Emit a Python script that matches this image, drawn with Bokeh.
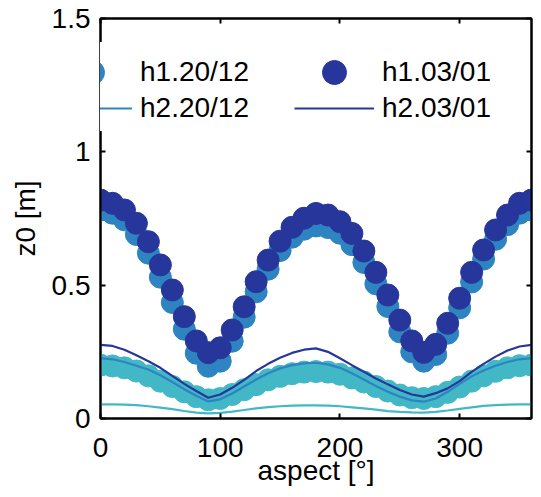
from bokeh.plotting import figure
from bokeh.models import Legend, LegendItem, LinearAxis, FixedTicker, Range1d
from bokeh.embed import file_html
from bokeh.resources import INLINE

# ---- data -----------------------------------------------------------
aspect = list(range(0, 361, 10))

h1_0612 = [0.200, 0.197, 0.190, 0.178, 0.160, 0.140, 0.120, 0.100, 0.082, 0.070,
           0.075, 0.090, 0.108, 0.127, 0.145, 0.158, 0.168, 0.174, 0.176, 0.174,
           0.166, 0.152, 0.137, 0.120, 0.103, 0.088, 0.078, 0.075, 0.082, 0.098,
           0.118, 0.140, 0.160, 0.177, 0.190, 0.198, 0.200]
h2_0612 = [0.053, 0.053, 0.052, 0.050, 0.046, 0.041, 0.035, 0.028, 0.022, 0.019,
           0.021, 0.026, 0.032, 0.038, 0.043, 0.046, 0.048, 0.049, 0.049, 0.048,
           0.046, 0.042, 0.038, 0.033, 0.028, 0.025, 0.023, 0.022, 0.025, 0.030,
           0.036, 0.042, 0.047, 0.050, 0.052, 0.053, 0.053]
h1_2012 = [0.782, 0.770, 0.745, 0.690, 0.620, 0.530, 0.435, 0.335, 0.245, 0.196,
           0.215, 0.290, 0.380, 0.475, 0.560, 0.630, 0.680, 0.710, 0.722, 0.716,
           0.695, 0.652, 0.585, 0.505, 0.420, 0.325, 0.250, 0.215, 0.240, 0.320,
           0.415, 0.512, 0.598, 0.672, 0.727, 0.770, 0.782]
h2_2012 = [0.226, 0.222, 0.212, 0.198, 0.184, 0.162, 0.137, 0.110, 0.085, 0.064,
           0.072, 0.094, 0.120, 0.146, 0.170, 0.188, 0.200, 0.207, 0.209, 0.203,
           0.190, 0.170, 0.146, 0.122, 0.100, 0.082, 0.068, 0.063, 0.075, 0.100,
           0.130, 0.158, 0.180, 0.198, 0.212, 0.222, 0.226]
h1_0301 = [0.819, 0.807, 0.782, 0.732, 0.663, 0.576, 0.482, 0.382, 0.291, 0.247,
           0.265, 0.332, 0.419, 0.513, 0.594, 0.665, 0.717, 0.751, 0.769, 0.763,
           0.738, 0.694, 0.628, 0.548, 0.463, 0.369, 0.291, 0.248, 0.278, 0.357,
           0.451, 0.548, 0.632, 0.707, 0.763, 0.807, 0.819]
h2_0301 = [0.276, 0.272, 0.258, 0.237, 0.215, 0.190, 0.160, 0.130, 0.103, 0.078,
           0.090, 0.115, 0.145, 0.178, 0.205, 0.228, 0.246, 0.258, 0.263, 0.250,
           0.226, 0.200, 0.175, 0.150, 0.128, 0.107, 0.090, 0.082, 0.095, 0.113,
           0.140, 0.175, 0.205, 0.232, 0.255, 0.270, 0.276]

h1_labels = ["h1.06/12", "h1.20/12", "h1.03/01"]
h2_labels = ["h2.06/12", "h2.20/12", "h2.03/01"]
colors = ["#42b8c6", "#2e84c0", "#27369a"]

x_ticks = [0, 100, 200, 300]
x_tick_labels = ["0", "100", "200", "300"]
y_ticks = [0, 0.5, 1, 1.5]
y_tick_labels = ["0", "0.5", "1", "1.5"]
x_title = "aspect [°]"
y_title = "z0 [m]"

FONT = "Liberation Sans"
FS = "28px"

# ---- figure ---------------------------------------------------------
p = figure(width=533, height=489, output_backend="svg", toolbar_location=None,
           x_range=Range1d(0, 360), y_range=Range1d(0, 1.5),
           min_border_left=100, min_border_right=2, min_border_top=18,
           min_border_bottom=71)
p.xgrid.visible = False
p.ygrid.visible = False
p.outline_line_color = "black"
p.outline_line_width = 2
p.background_fill_color = "white"
p.border_fill_color = "white"

for ax, ticks, labs in ((p.xaxis[0], x_ticks, x_tick_labels),
                        (p.yaxis[0], y_ticks, y_tick_labels)):
    ax.ticker = FixedTicker(ticks=ticks)
    ax.major_label_overrides = {t: l for t, l in zip(ticks, labs)}
    ax.major_tick_in = 5
    ax.major_tick_out = 0
    ax.minor_tick_in = 0
    ax.minor_tick_out = 0
    ax.axis_line_width = 2
    ax.major_tick_line_width = 2
    ax.axis_line_color = "black"
    ax.major_label_text_font = FONT
    ax.major_label_text_font_size = FS
    ax.major_label_text_color = "black"
    ax.axis_label_text_font = FONT
    ax.axis_label_text_font_size = FS
    ax.axis_label_text_font_style = "normal"
    ax.axis_label_text_color = "black"

p.xaxis[0].axis_label = x_title
p.yaxis[0].axis_label = y_title
p.xaxis[0].major_label_standoff = 19
p.xaxis[0].axis_label_standoff = -5
p.yaxis[0].major_label_standoff = 10
p.yaxis[0].axis_label_standoff = 8

for place, ticks in (("above", x_ticks), ("right", y_ticks)):
    ax = LinearAxis(ticker=FixedTicker(ticks=ticks),
                    major_label_overrides={t: "" for t in ticks},
                    major_label_text_font_size="1px", major_label_standoff=0,
                    major_tick_in=5, major_tick_out=0, minor_tick_in=0,
                    minor_tick_out=0, axis_line_width=2, major_tick_line_width=2)
    p.add_layout(ax, place)

# ---- series ---------------------------------------------------------
h1_series = [h1_0612, h1_2012, h1_0301]
h2_series = [h2_0612, h2_2012, h2_0301]
dot_r, line_r = [], []
for c, y1, y2 in zip(colors, h1_series, h2_series):
    r1 = p.scatter(aspect, y1, size=22, marker="circle", fill_color=c, line_color=c)
    r2 = p.line(aspect, y2, line_width=2.2, line_color=c)
    dot_r.append(r1)
    line_r.append(r2)

# ---- legend (3 columns x 2 rows) -----------------------------------
col_x = [-290, -48, 194]
rows = [(dot_r, h1_labels, 60, 316), (line_r, h2_labels, 46, 287)]
for rends, labels, gh, ypos in rows:
    for cx, r, lab in zip(col_x, rends, labels):
        lg = Legend(items=[LegendItem(label=lab, renderers=[r])],
                    location=(cx, ypos), orientation="vertical",
                    glyph_width=80, glyph_height=gh, label_height=gh,
                    label_standoff=8, padding=0, margin=0, spacing=0,
                    border_line_color=None, background_fill_color="white",
                    background_fill_alpha=1.0,
                    label_text_font=FONT, label_text_font_size=FS,
                    label_text_color="black")
        p.add_layout(lg)

open("out.html", "w").write(file_html(p, INLINE))
